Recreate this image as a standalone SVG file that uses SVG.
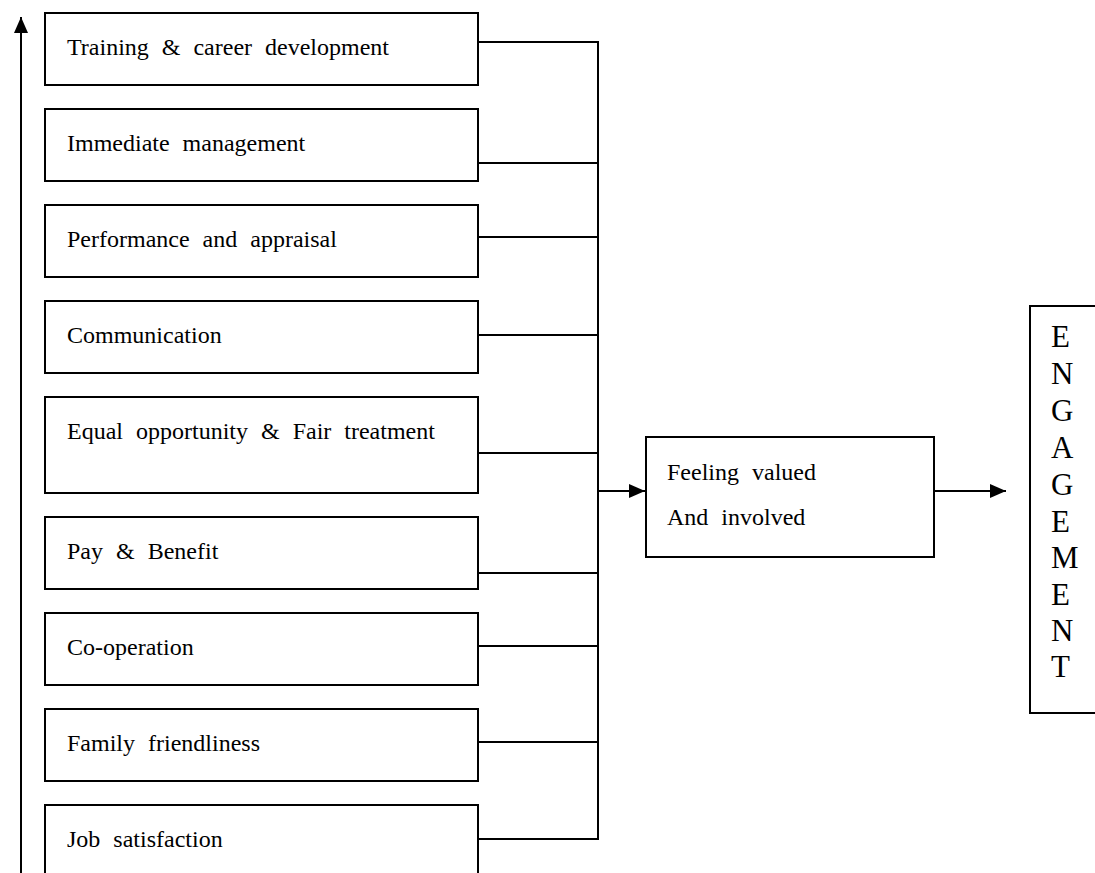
<svg xmlns="http://www.w3.org/2000/svg" width="1095" height="873" viewBox="0 0 1095 873">
<style>
.b{fill:#fff;stroke:#000;stroke-width:2}
.t{font-family:"Liberation Serif","Times New Roman",serif;font-size:24px;fill:#000;word-spacing:7px}
.e{font-family:"Liberation Serif","Times New Roman",serif;font-size:31px;fill:#000}
.c{fill:none;stroke:#000;stroke-width:2}
</style>
<defs>
<marker id="ah" markerWidth="16" markerHeight="14" refX="16" refY="7" orient="auto" markerUnits="userSpaceOnUse">
<path d="M0,0 L16,7 L0,14 Z" fill="#000"/>
</marker>
</defs>
<rect width="1095" height="873" fill="#fff"/>
<g id="connectors">
<line class="c" x1="21" y1="873" x2="21" y2="17" marker-end="url(#ah)"/>
<polyline class="c" points="478,42 598,42 598,839 478,839"/>
<line class="c" x1="478" y1="163" x2="598" y2="163"/>
<line class="c" x1="478" y1="237" x2="598" y2="237"/>
<line class="c" x1="478" y1="335" x2="598" y2="335"/>
<line class="c" x1="478" y1="453" x2="598" y2="453"/>
<line class="c" x1="478" y1="573" x2="598" y2="573"/>
<line class="c" x1="478" y1="646" x2="598" y2="646"/>
<line class="c" x1="478" y1="742" x2="598" y2="742"/>
<line class="c" x1="598" y1="491" x2="645" y2="491" marker-end="url(#ah)"/>
<line class="c" x1="934" y1="491" x2="1006" y2="491" marker-end="url(#ah)"/>
</g>
<g id="n1"><rect class="b" x="45" y="13" width="433" height="72"/><text class="t" x="67" y="55">Training &amp; career development</text></g>
<g id="n2"><rect class="b" x="45" y="109" width="433" height="72"/><text class="t" x="67" y="151">Immediate management</text></g>
<g id="n3"><rect class="b" x="45" y="205" width="433" height="72"/><text class="t" x="67" y="247">Performance and appraisal</text></g>
<g id="n4"><rect class="b" x="45" y="301" width="433" height="72"/><text class="t" x="67" y="343">Communication</text></g>
<g id="n5"><rect class="b" x="45" y="397" width="433" height="96"/><text class="t" x="67" y="439">Equal opportunity &amp; Fair treatment</text></g>
<g id="n6"><rect class="b" x="45" y="517" width="433" height="72"/><text class="t" x="67" y="559">Pay &amp; Benefit</text></g>
<g id="n7"><rect class="b" x="45" y="613" width="433" height="72"/><text class="t" x="67" y="655">Co-operation</text></g>
<g id="n8"><rect class="b" x="45" y="709" width="433" height="72"/><text class="t" x="67" y="751">Family friendliness</text></g>
<g id="n9"><rect class="b" x="45" y="805" width="433" height="80"/><text class="t" x="67" y="847">Job satisfaction</text></g>
<g id="feeling"><rect class="b" x="646" y="437" width="288" height="120"/><text class="t" x="667" y="480">Feeling valued</text><text class="t" x="667" y="525">And involved</text></g>
<g id="engagement"><rect class="b" x="1030" y="306" width="80" height="407"/>
<text class="e" x="1051"><tspan x="1051" y="347">E</tspan><tspan x="1051" y="384">N</tspan><tspan x="1051" y="421">G</tspan><tspan x="1051" y="458">A</tspan><tspan x="1051" y="495">G</tspan><tspan x="1051" y="532">E</tspan><tspan x="1051" y="568">M</tspan><tspan x="1051" y="605">E</tspan><tspan x="1051" y="641">N</tspan><tspan x="1051" y="677">T</tspan></text></g>
</svg>
